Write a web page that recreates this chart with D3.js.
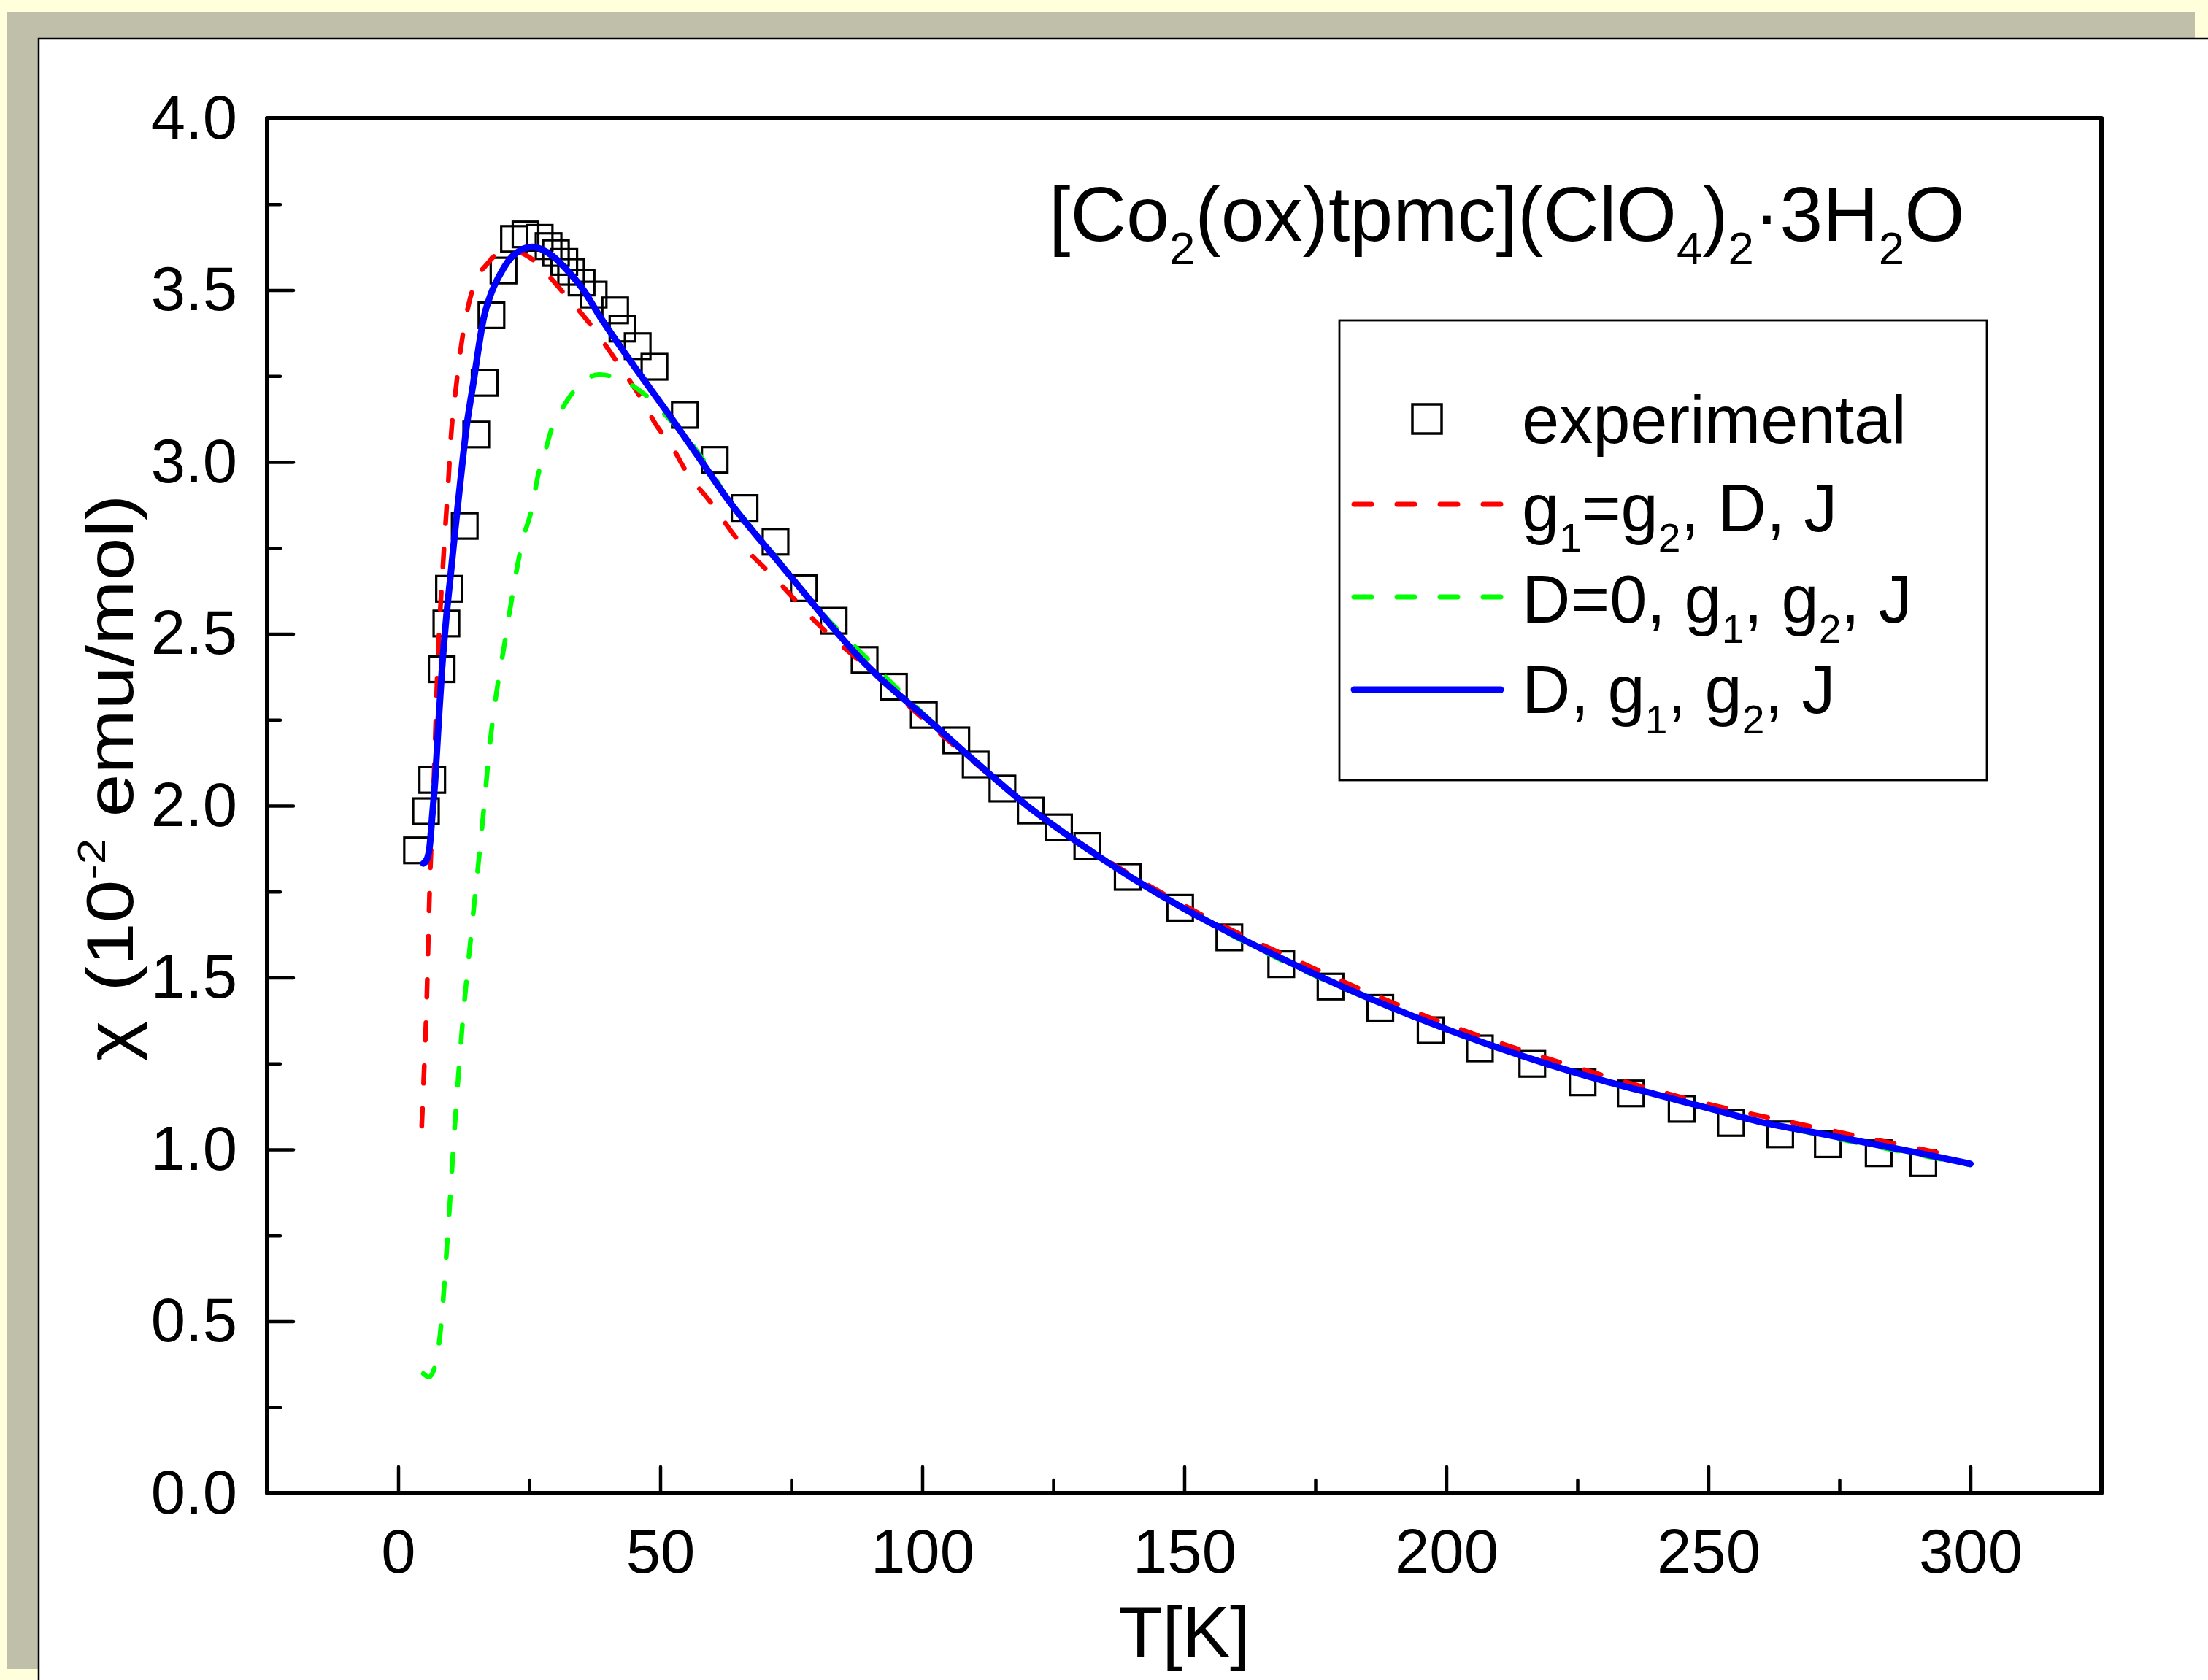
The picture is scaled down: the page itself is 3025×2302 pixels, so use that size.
<!DOCTYPE html>
<html><head><meta charset="utf-8">
<script src="https://cdn.jsdelivr.net/npm/d3@7"></script>
<style>
html,body{margin:0;padding:0;background:#FFFFDC;}
svg{display:block;}
text{font-family:"Liberation Sans",Arial,Helvetica,sans-serif;fill:#000;}
</style></head><body>
<svg id="chart" width="3025" height="2302"></svg>
<script>
// ---------------- data ----------------
const expT   = [3.6,5.3,6.5,8.3,9.2,9.7,12.7,14.9,16.5,17.8,20.1,22.1,24.3,27.0,28.7,30.1,31.7,33.0,35.0,37.3,41.4,42.8,45.7,48.9,54.7,60.4,66.1,72.0,77.4,83.1,89.0,94.6,100.3,106.5,110.2,115.3,120.7,126.1,131.5,139.2,149.2,158.6,168.5,177.9,187.4,197.0,206.4,216.4,226.0,235.2,244.9,254.3,263.7,272.8,282.5,291.0];
const expChi = [1.870,1.984,2.075,2.397,2.530,2.631,2.814,3.080,3.230,3.427,3.557,3.649,3.662,3.652,3.628,3.608,3.582,3.553,3.522,3.487,3.441,3.388,3.337,3.277,3.137,3.006,2.866,2.768,2.633,2.538,2.424,2.346,2.264,2.190,2.120,2.050,1.986,1.937,1.883,1.793,1.703,1.617,1.539,1.474,1.412,1.347,1.294,1.249,1.195,1.163,1.118,1.077,1.044,1.015,0.989,0.960];

const redT   = [4.5,5.0,5.4,6.0,6.8,7.5,8.7,9.6,10.1,11.0,12.1,13.8,15.2,16.8,19.6,21.4,25.2,28.4,32.6,35.8,39.6,42.1,46.1,49.3,52.1,55.3,59.1,65,72,80,90,100,110,120,130,150,175,200,225,250,275,298];
const redChi = [1.068,1.25,1.41,1.75,2.07,2.395,2.737,2.95,3.077,3.212,3.346,3.480,3.54,3.573,3.611,3.615,3.594,3.547,3.473,3.417,3.339,3.283,3.191,3.106,3.048,2.964,2.893,2.77,2.66,2.53,2.395,2.255,2.125,2.0,1.893,1.71,1.525,1.365,1.238,1.132,1.05,0.978];

const greenT   = [4.8,5.9,7.3,8.0,9.6,10.8,12.2,14.0,15.9,17.7,20.5,23.8,25.4,26.8,28.0,29.3,31.4,34.9,38.4,43.0,47.0,51.4,55.3,60,62.8,66,72,80,90,100,120,150,200,250,300];
const greenChi = [0.348,0.338,0.386,0.462,0.784,1.068,1.352,1.637,1.921,2.206,2.49,2.775,2.858,2.968,3.028,3.097,3.158,3.229,3.254,3.236,3.197,3.13,3.066,2.965,2.895,2.835,2.725,2.575,2.42,2.27,2.0,1.70,1.348,1.118,0.955];

const blueT   = [4.8,5.5,6.0,6.5,7.06,7.7,8.36,9.2,10.07,10.86,11.5,12.2,12.86,14.35,16.34,17.73,19.6,21.9,25.6,29.3,32.3,35.6,38.2,41.6,45.1,51.7,57.7,62.8,66,72,77.4,83.1,89,94.6,100,110,120,130,140,150,160,170,180,190,200,210,220,230,240,250,260,270,280,290,300];
const blueChi = [1.832,1.845,1.88,1.97,2.075,2.24,2.397,2.55,2.68,2.80,2.89,2.99,3.08,3.23,3.42,3.49,3.55,3.60,3.626,3.601,3.557,3.495,3.43,3.353,3.277,3.137,3.006,2.893,2.83,2.72,2.62,2.515,2.415,2.335,2.265,2.13,2.0,1.89,1.79,1.70,1.62,1.545,1.475,1.41,1.35,1.295,1.245,1.20,1.16,1.12,1.08,1.05,1.02,0.99,0.958];

const xMajor = [0,50,100,150,200,250,300];
const xMinor = [25,75,125,175,225,275];
const xTickLabels = ["0","50","100","150","200","250","300"];
const yMajor = [0,0.5,1.0,1.5,2.0,2.5,3.0,3.5,4.0];
const yMinor = [0.25,0.75,1.25,1.75,2.25,2.75,3.25,3.75];
const yTickLabels = ["0.0","0.5","1.0","1.5","2.0","2.5","3.0","3.5","4.0"];

const legendLabels = [
  [{t:"experimental"}],
  [{t:"g"},{t:"1",sub:true},{t:"=g"},{t:"2",sub:true},{t:", D, J"}],
  [{t:"D=0, g"},{t:"1",sub:true},{t:", g"},{t:"2",sub:true},{t:", J"}],
  [{t:"D, g"},{t:"1",sub:true},{t:", g"},{t:"2",sub:true},{t:", J"}]
];
const titleSegs = [{t:"[Co"},{t:"2",sub:true},{t:"(ox)tpmc](ClO"},{t:"4",sub:true},{t:")"},{t:"2",sub:true},{t:"·3H"},{t:"2",sub:true},{t:"O"}];
const yTitleSegs = [{t:"χ"},{t:"(10",dx:40},{t:"-2",sup:true},{t:" emu/mol)"}];

// ---------------- drawing ----------------
const W = 3025, H = 2302;
const svg = d3.select("#chart");
const L = 366, R = 2879, T = 162, B = 2046;

svg.append("rect").attr("x",0).attr("y",0).attr("width",W).attr("height",H).attr("fill","#FFFFDC");
svg.append("rect").attr("x",9).attr("y",17).attr("width",2998).attr("height",2270).attr("fill","#C0BFAA");
svg.append("rect").attr("x",53).attr("y",53).attr("width",3100).attr("height",2400)
   .attr("fill","#fff").attr("stroke","#000").attr("stroke-width",2.5);

const x = d3.scaleLinear().domain([-25,325]).range([L,R]);
const y = d3.scaleLinear().domain([0,4]).range([B,T]);

function richText(sel, segs, fs){
  let shift = 0;
  segs.forEach(s=>{
    const ts = sel.append("tspan").text(s.t);
    let target = 0, size = fs;
    if (s.sub){ target = 0.3*fs; size = 0.6*fs; }
    if (s.sup){ target = -0.42*fs; size = 0.6*fs; }
    ts.attr("font-size", size);
    if (s.dx) ts.attr("dx", s.dx);
    if (target !== shift){ ts.attr("dy", target - shift); shift = target; }
  });
}

// axes
const tickFs = 85;
const gx = svg.append("g").attr("transform",`translate(0,${B})`)
  .call(d3.axisBottom(x).tickValues(xMajor).tickSize(-36).tickPadding(49)
        .tickFormat((d,i)=>xTickLabels[i]));
const gxm = svg.append("g").attr("transform",`translate(0,${B})`)
  .call(d3.axisBottom(x).tickValues(xMinor).tickSize(-18).tickFormat(()=>""));
const gy = svg.append("g").attr("transform",`translate(${L},0)`)
  .call(d3.axisLeft(y).tickValues(yMajor).tickSize(-36).tickPadding(41)
        .tickFormat((d,i)=>yTickLabels[i]));
const gym = svg.append("g").attr("transform",`translate(${L},0)`)
  .call(d3.axisLeft(y).tickValues(yMinor).tickSize(-18).tickFormat(()=>""));
[gx,gxm,gy,gym].forEach(g=>{
  g.select(".domain").remove();
  g.selectAll(".tick line").attr("stroke","#000").attr("stroke-width",4.5).attr("stroke-linecap","round");
  g.selectAll(".tick text").attr("font-size",tickFs).attr("font-family",'"Liberation Sans",Arial,sans-serif').attr("fill","#000");
});

// frame
svg.append("rect").attr("x",L).attr("y",T).attr("width",R-L).attr("height",B-T)
  .attr("fill","none").attr("stroke","#000").attr("stroke-width",6).attr("stroke-linejoin","round");

// experimental squares
const sq = 35;
svg.append("g").selectAll("rect").data(d3.zip(expT,expChi)).join("rect")
  .attr("x",d=>x(d[0])-sq/2).attr("y",d=>y(d[1])-sq/2)
  .attr("width",sq).attr("height",sq)
  .attr("fill","none").attr("stroke","#000").attr("stroke-width",3.2);

// fits
const line = d3.line().x(d=>x(d[0])).y(d=>y(d[1])).curve(d3.curveMonotoneX);
svg.append("path").datum(d3.zip(redT,redChi)).attr("d",line)
  .attr("fill","none").attr("stroke","#FF0000").attr("stroke-width",6.5)
  .attr("stroke-dasharray","24 35").attr("stroke-linecap","round");
svg.append("path").datum(d3.zip(greenT,greenChi)).attr("d",line)
  .attr("fill","none").attr("stroke","#00FF00").attr("stroke-width",6.5)
  .attr("stroke-dasharray","24 35").attr("stroke-linecap","round");
svg.append("path").datum(d3.zip(blueT,blueChi)).attr("d",line)
  .attr("fill","none").attr("stroke","#0000FF").attr("stroke-width",9)
  .attr("stroke-linecap","round").attr("stroke-linejoin","round");

// legend
const lg = svg.append("g");
lg.append("rect").attr("x",1835).attr("y",439).attr("width",887).attr("height",630)
  .attr("fill","#fff").attr("stroke","#000").attr("stroke-width",2.8);
const rowY = [574, 691, 818, 945];
const baseY = [607, 728, 853, 977];
const lgFs = 92;
lg.append("rect").attr("x",1935).attr("y",rowY[0]-20).attr("width",40).attr("height",40)
  .attr("fill","none").attr("stroke","#000").attr("stroke-width",3.5);
[["#FF0000","24 35",7],["#00FF00","24 35",7],["#0000FF",null,9]].forEach((s,i)=>{
  const p = lg.append("line").attr("x1",1855).attr("x2",2056).attr("y1",rowY[i+1]).attr("y2",rowY[i+1])
    .attr("stroke",s[0]).attr("stroke-width",s[2]).attr("stroke-linecap","round");
  if (s[1]) p.attr("stroke-dasharray",s[1]);
});
legendLabels.forEach((segs,i)=>{
  const t = lg.append("text").attr("x",2085).attr("y",baseY[i]).attr("font-size",lgFs);
  richText(t, segs, lgFs);
});

// annotation title
const tt = svg.append("text").attr("x",1437).attr("y",330).attr("font-size",106);
richText(tt, titleSegs, 106);

// axis titles
svg.append("text").attr("x",(L+R)/2).attr("y",2270).attr("text-anchor","middle")
  .attr("font-size",98).text("T[K]");
const yt = svg.append("text").attr("transform",`translate(182,1066) rotate(-90) scale(1,0.85)`)
  .attr("text-anchor","middle").attr("font-size",106);
richText(yt, yTitleSegs, 106);
</script>
</body></html>
